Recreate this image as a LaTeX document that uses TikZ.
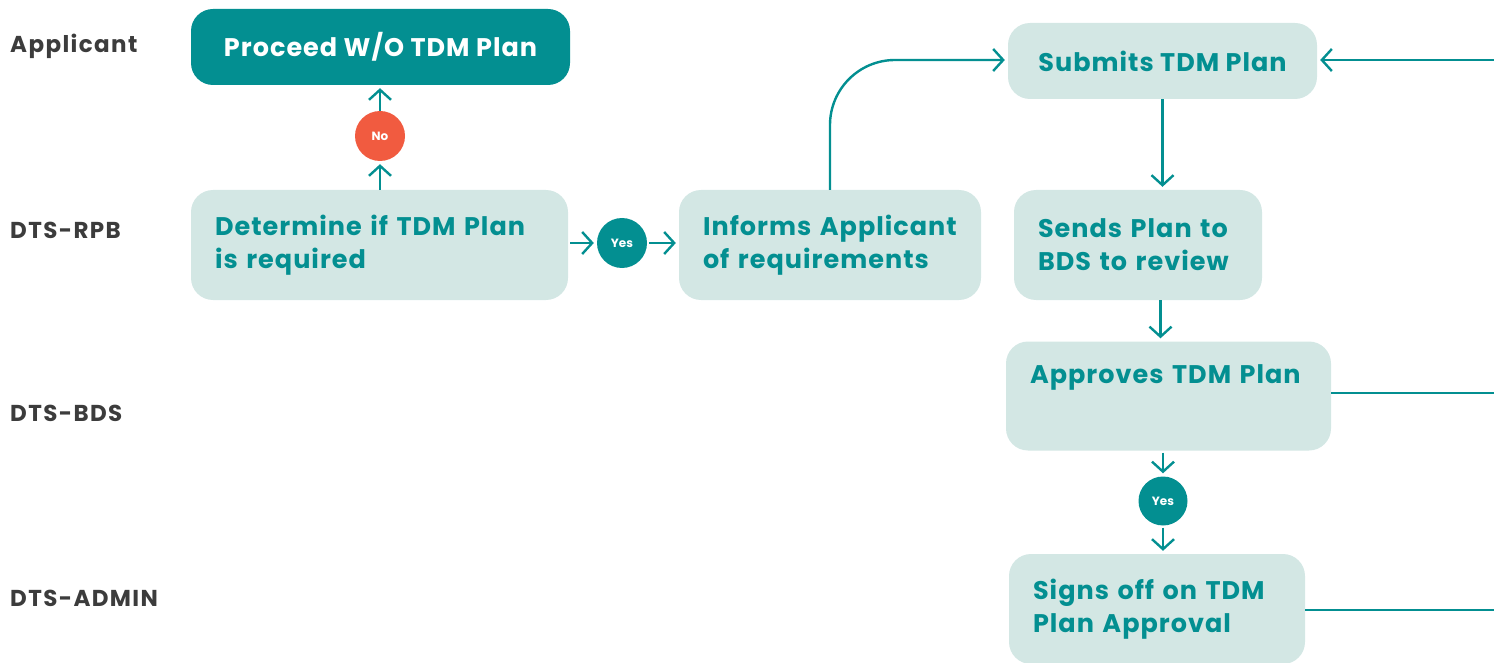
\documentclass[tikz,border=0pt]{standalone}
\usepackage{fontspec}
\setmainfont{Poppins}
\usetikzlibrary{arrows.meta,calc}
\definecolor{flowteal}{HTML}{038F91}
\definecolor{boxfill}{HTML}{D3E7E4}
\definecolor{nored}{HTML}{F15B40}
\definecolor{lanegray}{HTML}{3C3C3C}
\begin{document}
\begin{tikzpicture}[x=1pt,y=-1pt,
  box/.style={fill=boxfill, rounded corners=22pt, text=flowteal,
    font=\fontsize{25.5}{33}\selectfont\bfseries\addfontfeature{LetterSpace=4},
    inner xsep=24pt, inner ysep=0pt, align=left},
  darkbox/.style={box, fill=flowteal, text=white, align=center},
  choice/.style={circle, minimum size=50pt, inner sep=0pt, text=white,
    font=\fontsize{12}{12}\selectfont\bfseries},
  lane/.style={anchor=west, inner sep=0pt, text=lanegray,
    font=\fontsize{23}{23}\selectfont\bfseries\addfontfeature{LetterSpace=6}},
  arr/.style={draw=flowteal, line width=2.4pt,
    -{Straight Barb[length=10pt,width=22pt,line width=2.4pt]}, shorten >=3pt},
  link/.style={draw=flowteal, line width=2.4pt}]
\useasboundingbox (0,0) rectangle (1494,663);

% swimlane titles
\node[lane] (lapp) at (10,46) {Applicant};
\node[lane] (lrpb) at (10,230) {DTS-RPB};
\node[lane] (lbds) at (10,413) {DTS-BDS};
\node[lane] (ladm) at (10,598) {DTS-ADMIN};

% process steps (~ keeps each printed line unbroken)
\node[darkbox, minimum width=379pt, minimum height=76pt] (pro) at (380.5,47) {Proceed W/O TDM Plan};
\node[box, minimum height=110pt, text width=329pt] (det) at (379.5,245) {Determine~if~TDM~Plan\\is~required};
\node[box, minimum height=110pt, text width=254pt] (inf) at (830,245) {Informs~Applicant\\of~requirements};
\node[box, align=center, minimum width=309pt, minimum height=76pt] (sub) at (1162.5,61) {Submits TDM Plan};
\node[box, minimum height=110pt, text width=200pt] (snd) at (1138,245) {Sends~Plan~to\\BDS~to~review};
\node[box, minimum height=109pt, text width=277pt] (app) at (1168.5,396) {Approves~TDM~Plan\\\strut};
\node[box, minimum height=110pt, text width=248pt] (sig) at (1157,609) {Signs~off~on~TDM\\Plan~Approval};

% decisions
\node[choice, fill=nored] (no) at (380,136) {No};
\node[choice, fill=flowteal] (yes1) at (622,243) {Yes};
\node[choice, fill=flowteal, minimum size=49pt] (yes2) at (1163,501) {Yes};

% loose ends at the right border
\coordinate (rin) at (1494,60);
\coordinate (rapp) at (1494,393);
\coordinate (rsig) at (1494,610);

% connectors
\draw[arr] (det.north -| no) -- (no.south);
\draw[arr] (no.north) -- (pro.south -| no);
\draw[arr, shorten <=2pt] (det.east |- yes1) -- (yes1.west);
\draw[arr, shorten <=2pt] (yes1.east) -- (inf.west |- yes1);
\draw[arr, rounded corners=65pt] (inf.north) |- (sub.west |- rin);
\draw[arr] (rin) -- (sub.east |- rin);
\draw[arr] (sub.south) -- (snd.north -| sub.south);
\draw[arr] ($(snd.south -| sub.south)+(-2,0)$) -- ($(app.north -| sub.south)+(-2,0)$);
\draw[arr, shorten <=2pt] (app.south -| yes2) -- (yes2.north);
\draw[arr, shorten <=2pt] (yes2.south) -- (sig.north -| yes2);
\draw[link] (app.east |- rapp) -- (rapp);
\draw[link] (sig.east |- rsig) -- (rsig);
\end{tikzpicture}
\end{document}
